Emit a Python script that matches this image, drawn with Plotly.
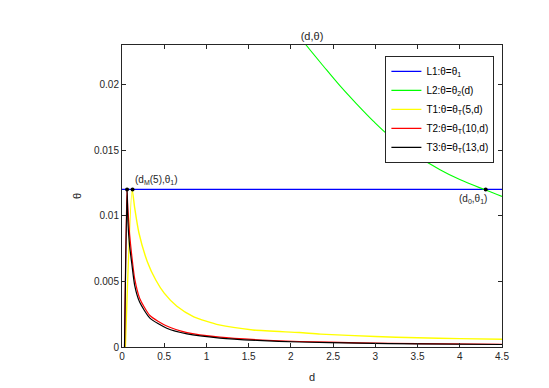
import plotly.graph_objects as go

# values
theta1 = 0.012

l1_d = [0.0, 4.5]
l1_theta = [theta1, theta1]

l2_d = [2.1, 2.18, 2.384, 2.58, 2.78, 2.976, 3.17, 3.47, 3.766, 4.0, 4.307, 4.5]
l2_theta = [0.0237, 0.0230, 0.0214, 0.0199, 0.0185, 0.0172, 0.01605, 0.01466, 0.0135, 0.01275, 0.01195, 0.01147]

t1_d = [0.04, 0.12, 0.15, 0.2, 0.3, 0.4, 0.5, 0.65, 0.85, 1.15, 1.55, 2.1, 2.35, 3.0, 3.5, 4.0, 4.5]
t1_theta = [0.0, 0.012, 0.0106, 0.0087, 0.0065, 0.0051, 0.0041, 0.0031, 0.0023, 0.00168, 0.0013,
            0.0011, 0.00098, 0.0008, 0.0007, 0.00064, 0.00059]

t2_d = [0.03, 0.058, 0.07, 0.09, 0.115, 0.15, 0.21, 0.33, 0.53, 0.77, 1.16, 1.6, 2.1, 2.8, 3.5, 4.5]
t2_theta = [0.0, 0.012, 0.0105, 0.0086, 0.007, 0.0052, 0.0037, 0.0024, 0.0016, 0.0011, 0.00075,
            0.00055, 0.00042, 0.00032, 0.00026, 0.00021]

t3_d = [0.03, 0.06, 0.07, 0.09, 0.115, 0.15, 0.21, 0.33, 0.53, 0.77, 1.16, 1.6, 2.1, 2.8, 3.5, 4.5]
t3_theta = [0.0, 0.012, 0.0095, 0.0077, 0.0064, 0.0047, 0.0034, 0.0022, 0.00143, 0.001, 0.00068,
            0.0005, 0.00038, 0.00029, 0.00024, 0.00019]

dot_d = [0.06, 0.125, 4.307]
dot_theta = [theta1, theta1, theta1]

FONT = "Liberation Sans, Arial, sans-serif"
AX = "#262626"

fig = go.Figure()
fig.add_trace(go.Scatter(x=l1_d, y=l1_theta, mode="lines", line=dict(color="#0000ff", width=1.2),
                         name="L1:θ=θ<sub>1</sub>"))
fig.add_trace(go.Scatter(x=l2_d, y=l2_theta, mode="lines", line=dict(color="#00ff00", width=1.1, shape="spline"),
                         name="L2:θ=θ<sub>2</sub>(d)"))
fig.add_trace(go.Scatter(x=t1_d, y=t1_theta, mode="lines", line=dict(color="#ffff00", width=1.4, shape="spline", smoothing=0.6),
                         name="T1:θ=θ<sub>T</sub>(5,d)"))
fig.add_trace(go.Scatter(x=t2_d, y=t2_theta, mode="lines", line=dict(color="#ff0000", width=1.2, shape="spline", smoothing=0.6),
                         name="T2:θ=θ<sub>T</sub>(10,d)"))
fig.add_trace(go.Scatter(x=t3_d, y=t3_theta, mode="lines", line=dict(color="#000000", width=1.2, shape="spline", smoothing=0.6),
                         name="T3:θ=θ<sub>T</sub>(13,d)"))
fig.add_trace(go.Scatter(x=dot_d, y=dot_theta, mode="markers", marker=dict(color="black", size=4),
                         showlegend=False, hoverinfo="skip"))

fig.add_annotation(x=0.13, y=theta1, text="(d<sub>M</sub>(5),θ<sub>1</sub>)", showarrow=False,
                   xanchor="left", yanchor="bottom", yshift=1, font=dict(size=10, color=AX, family=FONT))
fig.add_annotation(x=4.16, y=theta1, text="(d<sub>0</sub>,θ<sub>1</sub>)", showarrow=False,
                   xanchor="center", yanchor="top", yshift=-2, font=dict(size=10, color=AX, family=FONT))

axis_style = dict(showline=True, linecolor=AX, linewidth=1, mirror="ticks", ticks="inside",
                  ticklen=4, tickcolor=AX, showgrid=False, zeroline=False, automargin=False,
                  tickfont=dict(size=10, color=AX, family=FONT))

fig.update_xaxes(range=[0, 4.5], dtick=0.5, title=dict(text="d", font=dict(size=11, color=AX, family=FONT), standoff=12),
                 **axis_style)
fig.update_yaxes(range=[0, 0.023], dtick=0.005, title=dict(text="θ", font=dict(size=11, color=AX, family=FONT), standoff=10),
                 **axis_style)

fig.update_layout(
    width=549, height=388,
    margin=dict(l=122, r=47, t=45, b=41),
    paper_bgcolor="white", plot_bgcolor="white",
    title=dict(text="(d,θ)", x=0.5, xref="paper", xanchor="center", y=0.907, yref="container", yanchor="middle",
               font=dict(size=11, color=AX, family=FONT)),
    font=dict(family=FONT, size=10, color=AX),
    legend=dict(x=0.98, xanchor="right", y=0.964, yanchor="top", bgcolor="white",
                bordercolor="#262626", borderwidth=1, font=dict(size=10, color="#000000", family=FONT),
                tracegroupgap=0, itemwidth=30),
    showlegend=True,
)

fig.write_html("out.html", config={"displayModeBar": False},
               post_script="document.body.style.margin='0';")
